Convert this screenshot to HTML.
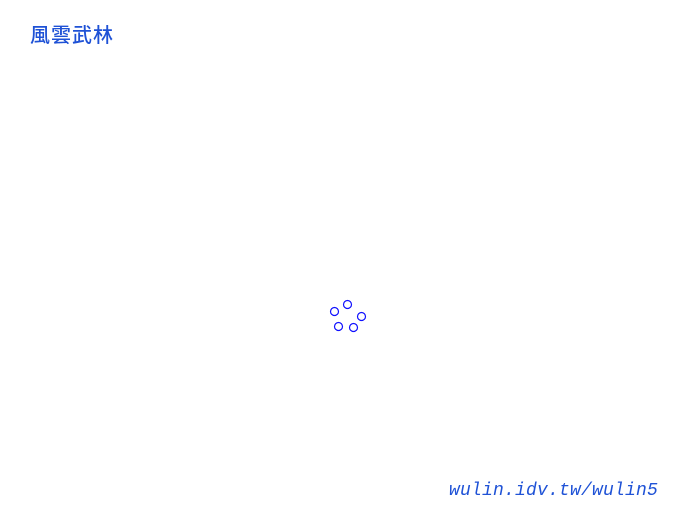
<!DOCTYPE html>
<html><head><meta charset="utf-8"><style>
html,body{margin:0;padding:0;background:#fff;width:700px;height:528px;overflow:hidden;position:relative}
.t{position:absolute;left:30px;top:22px;font:500 20px "Noto Sans CJK TC","WenQuanYi Zen Hei",sans-serif;color:#1f52d6;letter-spacing:1px;line-height:24px}
.f{position:absolute;left:449px;top:479px;font:italic 18px "Liberation Mono",monospace;color:#1f52d6;line-height:24px;letter-spacing:0.2px}
svg{position:absolute;left:0;top:0}
</style></head><body>
<div class="t">風雲武林</div>
<svg width="700" height="528"><g fill="none" stroke="#1010ff" stroke-width="1.2">
<circle cx="334.5" cy="311.5" r="4"/><circle cx="347.5" cy="304.5" r="4"/><circle cx="361.5" cy="316.5" r="4"/><circle cx="338.5" cy="326.5" r="4"/><circle cx="353.5" cy="327.5" r="4"/></g></svg>
<div class="f">wulin.idv.tw/wulin5</div>
</body></html>
